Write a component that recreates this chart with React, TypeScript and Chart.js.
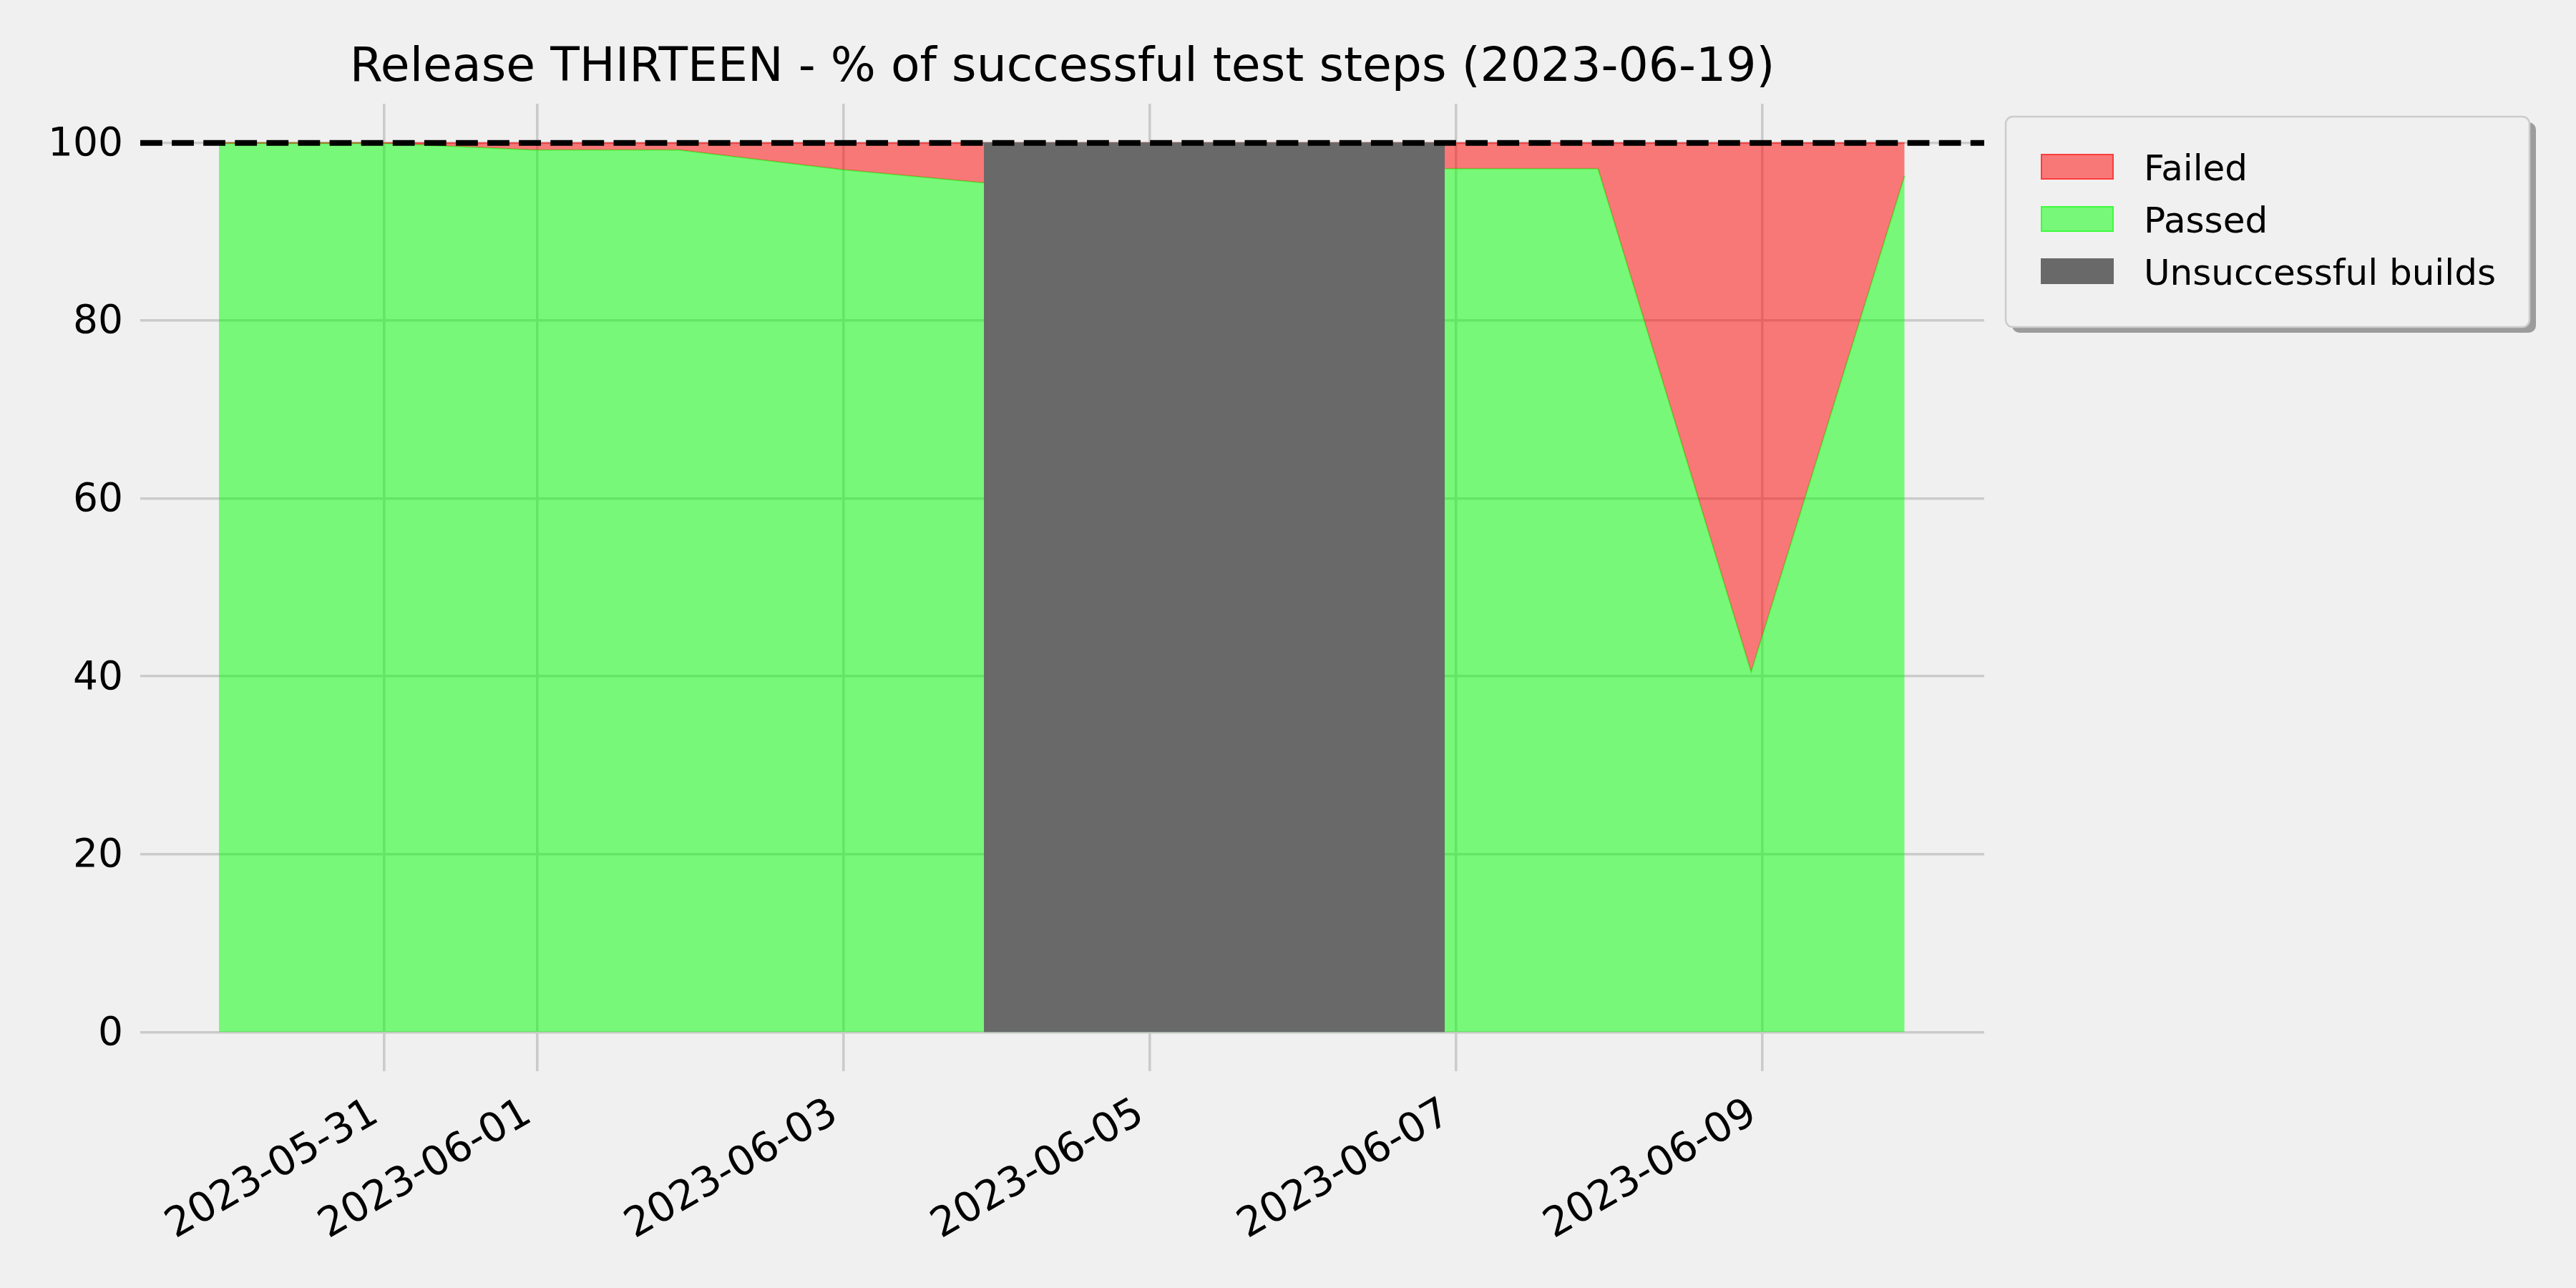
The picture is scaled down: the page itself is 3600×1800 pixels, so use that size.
import React, { useEffect, useRef } from "react";
import { Chart, registerables } from "chart.js";

Chart.register(...registerables);

// ---- data ----
const chartTitle = "Release THIRTEEN - % of successful test steps (2023-06-19)";
const buildTimes = [
  "2023-05-29T22:09",
  "2023-05-30T23:17",
  "2023-05-31T23:23",
  "2023-06-01T22:09",
  "2023-06-02T23:50",
  "2023-06-03T22:02",
  "2023-06-06T22:16",
  "2023-06-07T22:16",
  "2023-06-08T22:16",
  "2023-06-09T22:19",
];
const passedPct = [100, 100, 99.2, 99.2, 97.0, 95.5, 97.1, 97.1, 40.5, 96.3];
const failedPct = [0, 0, 0.8, 0.8, 3.0, 4.5, 2.9, 2.9, 59.5, 3.7];
const unsuccessfulSpan = ["2023-06-03T22:02", "2023-06-06T22:16"];
const unsuccessfulHeight = 100;
const targetPct = 100;
const xTickDates = ["2023-05-31", "2023-06-01", "2023-06-03", "2023-06-05", "2023-06-07", "2023-06-09"];
const yTicks = [0, 20, 40, 60, 80, 100];
const xRange = ["2023-05-29T09:49", "2023-06-10T10:48"];
const yRange = [-4.4, 104.4];
const legendLabels = ["Failed", "Passed", "Unsuccessful builds"];

const FONT = '"DejaVu Sans", sans-serif';
const BG = "#f0f0f0";
const ms = (s: string) => Date.parse(s.length === 10 ? s + "T00:00:00Z" : s + ":00Z");

export default function App() {
  const ref = useRef<HTMLCanvasElement | null>(null);

  useEffect(() => {
    document.body.style.margin = "0";
    const canvas = ref.current!;
    const xs = buildTimes.map(ms);
    const passedPts = xs.map((x, i) => ({ x, y: passedPct[i] }));
    const failedTopPts = xs.map((x, i) => ({ x, y: passedPct[i] + failedPct[i] }));
    const grayPts = unsuccessfulSpan.map((s) => ({ x: ms(s), y: unsuccessfulHeight }));
    const xMin = ms(xRange[0]);
    const xMax = ms(xRange[1]);
    const targetPts = [
      { x: xMin, y: targetPct },
      { x: xMax, y: targetPct },
    ];

    const legendItems = [
      { label: legendLabels[0], fill: "rgba(255,0,0,0.5)", edge: "rgba(255,0,0,0.5)" },
      { label: legendLabels[1], fill: "rgba(0,255,0,0.5)", edge: "rgba(0,255,0,0.5)" },
      { label: legendLabels[2], fill: "#696969", edge: "#696969" },
    ];

    const bgPlugin = {
      id: "bg",
      beforeDraw(chart: any) {
        const c = chart.ctx;
        c.save();
        c.fillStyle = BG;
        c.fillRect(0, 0, chart.width, chart.height);
        c.restore();
      },
    };

    const decorPlugin = {
      id: "decor",
      afterDraw(chart: any) {
        const c = chart.ctx;
        const a = chart.chartArea;
        c.save();
        // title
        c.fillStyle = "#000";
        c.font = `66.4px ${FONT}`;
        c.textAlign = "center";
        c.textBaseline = "alphabetic";
        c.fillText(chartTitle, (a.left + a.right) / 2, 113);

        // legend
        const bx = a.right + 30;
        const by = 163;
        const bw = 732;
        const bh = 294;
        c.fillStyle = "#9c9c9c";
        c.beginPath();
        c.roundRect(bx + 9, by + 8, bw, bh, 10);
        c.fill();
        c.fillStyle = BG;
        c.strokeStyle = "#cccccc";
        c.lineWidth = 2.5;
        c.beginPath();
        c.roundRect(bx, by, bw, bh, 10);
        c.fill();
        c.stroke();

        c.font = `50px ${FONT}`;
        c.textAlign = "left";
        c.textBaseline = "alphabetic";
        legendItems.forEach((it, i) => {
          const py = by + 52 + i * 73;
          const px = bx + 49;
          c.fillStyle = BG;
          c.fillRect(px, py, 102, 36);
          c.fillStyle = it.fill;
          c.fillRect(px, py, 102, 36);
          c.strokeStyle = it.edge;
          c.lineWidth = 2;
          c.strokeRect(px + 1, py + 1, 100, 34);
          c.fillStyle = "#000";
          c.fillText(it.label, bx + 193, py + 37);
        });
        c.restore();
      },
    };

    const chart = new Chart(canvas, {
      type: "line",
      data: {
        datasets: [
          {
            label: "target",
            data: targetPts,
            borderColor: "#000",
            borderWidth: 8,
            borderDash: [30.8, 13.3],
            borderCapStyle: "butt",
            pointRadius: 0,
            fill: false,
          },
          {
            label: legendLabels[2],
            data: grayPts,
            borderColor: "#696969",
            borderWidth: 1,
            backgroundColor: "#696969",
            pointRadius: 0,
            fill: "origin",
          },
          {
            label: legendLabels[0],
            data: failedTopPts,
            borderColor: "rgba(255,0,0,0.5)",
            backgroundColor: "rgba(255,0,0,0.5)",
            borderWidth: 2,
            pointRadius: 0,
            tension: 0,
            fill: "+1",
          },
          {
            label: legendLabels[1],
            data: passedPts,
            borderColor: "rgba(0,255,0,0.5)",
            backgroundColor: "rgba(0,255,0,0.5)",
            borderWidth: 2,
            pointRadius: 0,
            tension: 0,
            fill: "origin",
          },
        ],
      },
      options: {
        responsive: false,
        animation: false,
        devicePixelRatio: 1,
        events: [],
        layout: { padding: { left: 0, top: 145, right: 827, bottom: 0 } },
        plugins: {
          legend: { display: false },
          title: { display: false },
          tooltip: { enabled: false },
        },
        scales: {
          x: {
            type: "linear",
            min: xMin,
            max: xMax,
            afterBuildTicks: (s: any) => {
              s.ticks = xTickDates.map((d) => ({ value: ms(d) }));
            },
            afterFit: (s: any) => {
              s.height = 303;
              s.paddingLeft = 0;
              s.paddingRight = 0;
            },
            ticks: {
              autoSkip: false,
              minRotation: 30,
              maxRotation: 30,
              padding: 26,
              labelOffset: -12,
              color: "#000",
              font: { family: FONT, size: 57 },
              callback: (v: any) => new Date(Number(v)).toISOString().slice(0, 10),
            },
            grid: { color: "#cbcbcb", lineWidth: 3.6, drawTicks: false },
            border: { display: false },
          },
          y: {
            type: "linear",
            min: yRange[0],
            max: yRange[1],
            afterBuildTicks: (s: any) => {
              s.ticks = yTicks.map((v) => ({ value: v }));
            },
            afterFit: (s: any) => {
              s.width = 196;
            },
            ticks: {
              padding: 24,
              labelOffset: 3,
              color: "#000",
              font: { family: FONT, size: 55 },
              callback: (v: any) => String(v),
            },
            grid: { color: "#cbcbcb", lineWidth: 3.6, drawTicks: false },
            border: { display: false },
          },
        },
      } as any,
      plugins: [bgPlugin, decorPlugin],
    });
    return () => chart.destroy();
  }, []);

  return (
    <div style={{ position: "fixed", left: 0, top: 0, width: 3600, height: 1800, background: BG }}>
      <canvas ref={ref} width={3600} height={1800} style={{ display: "block", width: 3600, height: 1800 }} />
    </div>
  );
}
